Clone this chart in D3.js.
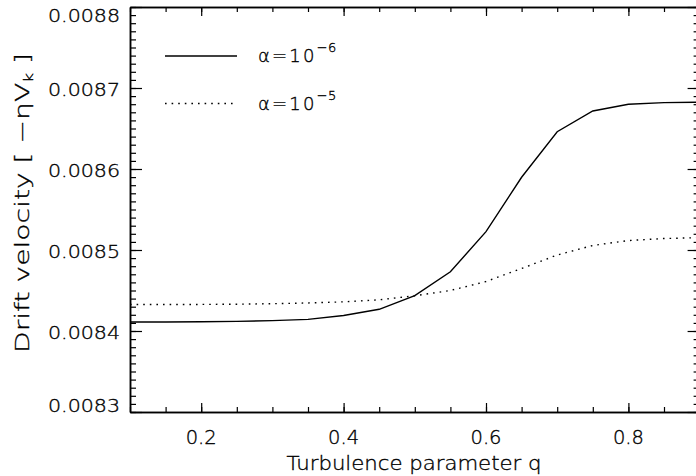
<!DOCTYPE html>
<html>
<head>
<meta charset="utf-8">
<script src="https://cdn.jsdelivr.net/npm/d3@7/dist/d3.min.js"></script>
<style>
  html, body { margin: 0; padding: 0; background: #fff; }
  svg { display: block; }
  text { font-family: "DejaVu Sans", "Liberation Sans", sans-serif; font-weight: 200;
         fill: #000; stroke: #000; stroke-width: 0.35px; }
</style>
</head>
<body>
<svg id="chart" width="696" height="476"></svg>
<script>
// Turbulence parameter q (sampled every 0.05)
const qValues = [0.10, 0.15, 0.20, 0.25, 0.30, 0.35, 0.40, 0.45, 0.50,
                 0.55, 0.60, 0.65, 0.70, 0.75, 0.80, 0.85, 0.90];
// Drift velocity in units of eta*V_k, alpha = 1e-6
const driftAlpha6 = [0.0084111, 0.0084112, 0.0084115, 0.0084119, 0.0084128,
                     0.0084144, 0.0084191, 0.0084268, 0.0084436, 0.0084732,
                     0.0085226, 0.0085898, 0.0086460, 0.0086716, 0.0086799,
                     0.0086819, 0.0086824];
// Drift velocity in units of eta*V_k, alpha = 1e-5
const driftAlpha5 = [0.0084327, 0.0084327, 0.0084328, 0.0084331, 0.0084337,
                     0.0084346, 0.0084360, 0.0084385, 0.0084435, 0.0084500,
                     0.0084611, 0.0084772, 0.0084938, 0.0085056, 0.0085117,
                     0.0085142, 0.0085152];
const xMajorTicks = [0.2, 0.4, 0.6, 0.8];
const yMajorTicks = [0.0083, 0.0084, 0.0085, 0.0086, 0.0087, 0.0088];
const seriesNames = ["6", "5"]; // exponents of alpha shown in the legend

const svg = d3.select("#chart");
const frame = { left: 130, right: 699.6, top: 7, bottom: 412 };

const x = d3.scaleLinear().domain([0.1, 0.9]).range([frame.left, frame.right]);
const y = d3.scaleLinear().domain([0.0083, 0.0088]).range([frame.bottom, frame.top]);

const xMinor = d3.range(0.1, 0.9001, 0.05).map(v => +v.toFixed(2));
const yMinor = d3.range(0.0083, 0.00880001, 0.00001).map(v => +v.toFixed(5));

function styleAxis(g) {
  g.select(".domain").attr("stroke", "#000").attr("stroke-width", 1.5);
  g.selectAll(".tick line").attr("stroke", "#000").attr("stroke-width", 1.2);
  g.selectAll(".tick text").remove();
}

// bottom & top axes (ticks pointing inward)
[["axisBottom", frame.bottom], ["axisTop", frame.top]].forEach(([fn, yy]) => {
  svg.append("g").attr("transform", `translate(0,${yy})`)
    .call(d3[fn](x).tickValues(xMinor).tickSize(-5).tickSizeOuter(0).tickFormat(""))
    .call(styleAxis);
  svg.append("g").attr("transform", `translate(0,${yy})`)
    .call(d3[fn](x).tickValues(xMajorTicks).tickSize(-9).tickSizeOuter(0).tickFormat(""))
    .call(styleAxis);
});

// left & right axes (ticks pointing inward)
[["axisLeft", frame.left], ["axisRight", frame.right]].forEach(([fn, xx]) => {
  svg.append("g").attr("transform", `translate(${xx},0)`)
    .call(d3[fn](y).tickValues(yMinor).tickSize(-6).tickSizeOuter(0).tickFormat(""))
    .call(styleAxis);
  svg.append("g").attr("transform", `translate(${xx},0)`)
    .call(d3[fn](y).tickValues(yMajorTicks).tickSize(-12).tickSizeOuter(0).tickFormat(""))
    .call(styleAxis);
});

// x tick labels
svg.append("g").selectAll("text").data(xMajorTicks).join("text")
  .attr("x", d => x(d)).attr("y", 444)
  .attr("text-anchor", "middle")
  .attr("font-size", 19)
  .attr("textLength", 31).attr("lengthAdjust", "spacingAndGlyphs")
  .text(d => d.toFixed(1));

// y tick labels (kept inside the frame at the ends)
svg.append("g").selectAll("text").data(yMajorTicks).join("text")
  .attr("x", 120)
  .attr("y", d => Math.min(Math.max(y(d) + 1.5, 15.5), 405.5) + 6.5)
  .attr("text-anchor", "end")
  .attr("font-size", 17)
  .attr("textLength", 72).attr("lengthAdjust", "spacingAndGlyphs")
  .text(d => d.toFixed(4));

// axis titles
svg.append("text")
  .attr("x", 414).attr("y", 470)
  .attr("text-anchor", "middle")
  .attr("font-size", 20)
  .attr("textLength", 255).attr("lengthAdjust", "spacingAndGlyphs")
  .text("Turbulence parameter q");

const yTitle = svg.append("text")
  .attr("transform", "translate(29,203) rotate(-90)")
  .attr("text-anchor", "middle")
  .attr("font-size", 20)
  .attr("textLength", 300).attr("lengthAdjust", "spacingAndGlyphs");
yTitle.append("tspan").text("Drift velocity  [  \u2212\u03b7V");
yTitle.append("tspan").attr("font-size", 12).attr("dy", 4).text("k");
yTitle.append("tspan").attr("dy", -4).text("  ]");

// curves
const line = d3.line().x(d => x(d[0])).y(d => y(d[1]));
const series = [
  { values: driftAlpha6, dash: null },
  { values: driftAlpha5, dash: "1.6,5" }
];

const plot = svg.append("g");
plot.append("defs").append("clipPath").attr("id", "clip")
  .append("rect").attr("x", frame.left).attr("y", frame.top)
  .attr("width", frame.right - frame.left).attr("height", frame.bottom - frame.top);

series.forEach(s => {
  plot.append("path")
    .datum(qValues.map((q, i) => [q, s.values[i]]))
    .attr("clip-path", "url(#clip)")
    .attr("fill", "none")
    .attr("stroke", "#000")
    .attr("stroke-width", 1.4)
    .attr("stroke-dasharray", s.dash)
    .attr("d", line);
});

// legend
const legend = svg.append("g");
series.forEach((s, i) => {
  const ly = 56 + i * 47.5;
  legend.append("line")
    .attr("x1", 165).attr("x2", 237).attr("y1", ly).attr("y2", ly)
    .attr("stroke", "#000").attr("stroke-width", 1.4)
    .attr("stroke-dasharray", s.dash);
  const t = legend.append("text").attr("x", 258).attr("y", ly + 6)
    .attr("font-size", 18).attr("letter-spacing", 2.2);
  t.append("tspan").text("\u03b1=10");
  t.append("tspan").attr("font-size", 13).attr("dy", -10).attr("letter-spacing", 0.5)
    .text("\u2212" + seriesNames[i]);
});
</script>
</body>
</html>
